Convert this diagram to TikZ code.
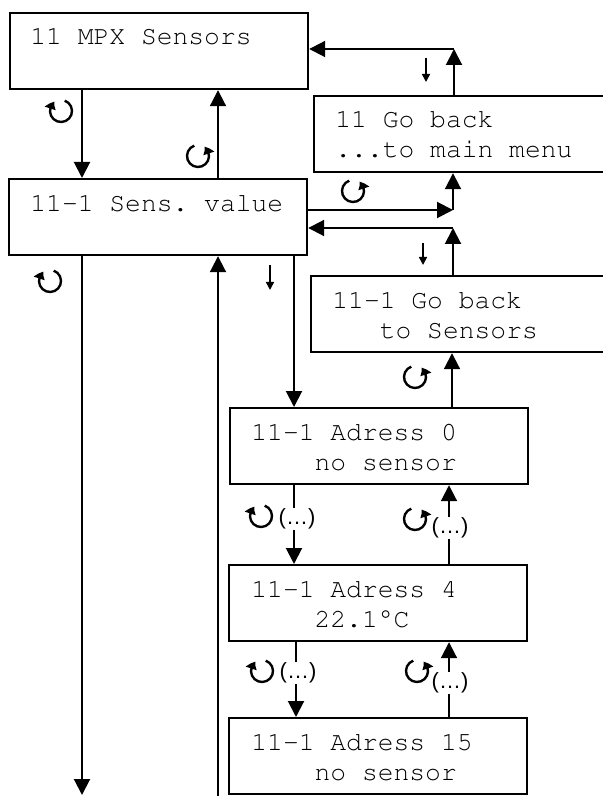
\documentclass[tikz,border=0pt]{standalone}
\usepackage[T1]{fontenc}
\usepackage{fontspec}
\newfontfamily\dotfont{Liberation Sans}
\newcommand\crfont{\fontencoding{T1}\fontfamily{pcr}\fontseries{m}\fontshape{n}\fontsize{13.17pt}{15pt}\selectfont\frenchspacing}
\usetikzlibrary{arrows.meta,bending}
\begin{document}
\begin{tikzpicture}[x=0.5pt,y=-0.5pt,
  menubox/.style={draw,line width=1.1pt,inner sep=0pt,anchor=north west,minimum width=149pt,minimum height=38pt},
  txt/.style={inner sep=0pt,anchor=base west,font=\crfont},
  arr/.style={line width=1pt,-{Triangle[length=8pt,width=8pt]}},
  smallarr/.style={line width=0.8pt,-{Triangle[length=4pt,width=4pt]}},
  rotarr/.style={line width=1.2pt,-{Triangle[length=4pt,width=5.5pt,bend]}},
  dots/.style={inner sep=0.5pt,fill=white,font=\dotfont\fontsize{11pt}{11pt}\selectfont}]
\useasboundingbox (0,0) rectangle (603,796);
\clip (0,0) rectangle (603,796);
% boxes
\node[menubox] (b1) at (9,12) {};
\node[menubox] (b2) at (8,178) {};
\node[menubox,minimum width=154pt] (b3) at (313,95) {};
\node[menubox,minimum width=155pt] (b4) at (310,275) {};
\node[menubox] (b5) at (229,407) {};
\node[menubox] (b6) at (228,564) {};
\node[menubox] (b7) at (228,717) {};
% texts
\node[txt] (t1) at (30,45) {11 MPX Sensors};
\node[txt] (t2) at (30,212) {11-1 Sens. value};
\node[txt] (t3a) at (335,128) {11 Go back};
\node[txt] (t3b) at (335,158) {...to main menu};
\node[txt] (t4a) at (332,308) {11-1 Go back};
\node[txt] (t4b) at (332,338) {\phantom{000}to Sensors};
\node[txt] (t5a) at (251,440) {11-1 Adress 0};
\node[txt] (t5b) at (251,470) {\phantom{0000}no sensor};
\node[txt] (t6a) at (251,597) {11-1 Adress 4};
\node[txt] (t6b) at (251,627) {\phantom{0000}22.1\textdegree C};
\node[txt] (t7a) at (251,750) {11-1 Adress 15};
\node[txt] (t7b) at (251,780) {\phantom{0000}no sensor};
% helper coordinates
\coordinate (xa) at (82,0);
\coordinate (xb) at (218,0);
\coordinate (xc) at (294,0);
\coordinate (xd) at (296,0);
\coordinate (xe) at (452,0);
\coordinate (xf) at (449,0);
\coordinate (k1) at (454,49);
\coordinate (k2) at (453,210);
\coordinate (k3) at (453,228);
\coordinate (e1) at (82,795);
\coordinate (e2) at (218,796);
% connectors
\draw[arr] (b1.south -| xa) -- (b2.north -| xa);
\draw[arr] (b2.north -| xb) -- (b1.south -| xb);
\draw[arr] (b3.north -| k1) -- (k1);
\draw[arr] (k1) -- (k1 -| b1.east);
\draw[arr] (k2 -| b2.east) -- (k2);
\draw[arr] (k2) -- (b3.south -| k2);
\draw[arr] (b4.north -| k3) -- (k3);
\draw[arr] (k3) -- (k3 -| b2.east);
\draw[arr] (b2.south -| xa) -- (e1);
\draw[arr] (e2) -- (b2.south -| e2);
\draw[arr] (b2.south -| xc) -- (b5.north -| xc);
\draw[arr] (b5.north -| xe) -- (b4.south -| xe);
\draw[arr] (b5.south -| xc) -- (b6.north -| xc);
\draw[arr] (b6.north -| xf) -- (b5.south -| xf);
\draw[arr] (b6.south -| xd) -- (b7.north -| xd);
\draw[arr] (b7.north -| xf) -- (b6.south -| xf);
% small arrows
\draw[smallarr] (426,58) -- (426,82);
\draw[smallarr] (423,243) -- (423,265);
\draw[smallarr] (270,265) -- (270,290);
% rotation symbols: cw = clockwise, ccw = counter-clockwise
\newcommand\cwsym[2]{\draw[rotarr] (#1+3.76,#2-10.34) arc[start angle=-70,end angle=235,radius=11];}
\newcommand\ccwsym[2]{\draw[rotarr] (#1-3.76,#2-10.34) arc[start angle=-110,end angle=-415,radius=11];}
\cwsym{61}{111}
\ccwsym{198}{156}
\ccwsym{353}{191}
\cwsym{50}{281}
\ccwsym{415}{377}
\cwsym{261}{516}
\ccwsym{415}{519}
\cwsym{262}{671}
\ccwsym{417}{671}
% dots labels
\node[dots] (d6) at (297,519) {(…)};
\node[dots] (d7) at (450,528) {(…)};
\node[dots] (d8) at (298,673) {(…)};
\node[dots] (d9) at (450,683) {(…)};
\end{tikzpicture}
\end{document}
